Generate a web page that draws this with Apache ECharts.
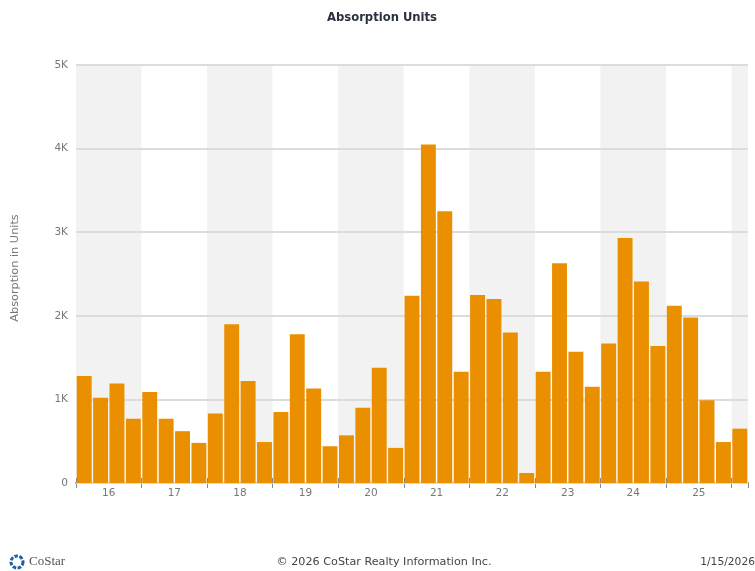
<!DOCTYPE html>
<html>
<head>
<meta charset="utf-8">
<style>html,body{margin:0;padding:0;background:#fff}#chart{width:755px;height:571px}</style>
<script src="https://cdn.jsdelivr.net/npm/echarts@6/dist/echarts.min.js"></script>
</head>
<body>
<div id="chart"></div>
<script>
// Quarterly absorption, one entry per quarter from 2016 Q1 to 2026 Q1
const quarters = [
  '16Q1','16Q2','16Q3','16Q4','17Q1','17Q2','17Q3','17Q4','18Q1','18Q2','18Q3','18Q4',
  '19Q1','19Q2','19Q3','19Q4','20Q1','20Q2','20Q3','20Q4','21Q1','21Q2','21Q3','21Q4',
  '22Q1','22Q2','22Q3','22Q4','23Q1','23Q2','23Q3','23Q4','24Q1','24Q2','24Q3','24Q4',
  '25Q1','25Q2','25Q3','25Q4','26Q1'
];
const absorption = [
  1280,1020,1190,770, 1090,770,620,480, 830,1900,1220,490,
  850,1780,1130,440, 570,900,1380,420, 2240,4050,3250,1330,
  2250,2200,1800,120, 1330,2630,1570,1150, 1670,2930,2410,1640,
  2120,1980,990,490, 650
];
const yearLabels = ['16','17','18','19','20','21','22','23','24','25'];
const yearCentres = [2,6,10,14,18,22,26,30,34,38];
const yearEdges = [0,4,8,12,16,20,24,28,32,36,40];

const GREY = '#777';
const FONT = '"DejaVu Sans", sans-serif';
const chart = echarts.init(document.getElementById('chart'), null, {renderer: 'canvas'});
chart.setOption({
  animation: false,
  backgroundColor: '#fff',
  textStyle: {fontFamily: FONT},
  grid: {left: 76, right: 7, top: 65, bottom: 88},
  xAxis: [
    {
      type: 'category',
      data: quarters,
      z: 0,
      axisLine: {lineStyle: {color: '#999', width: 2}},
      axisTick: {show: true, interval: 3, length: 5, lineStyle: {color: '#888', width: 1}},
      axisLabel: {show: false},
      splitLine: {show: false},
      splitArea: {show: true, interval: 3, areaStyle: {color: ['#f2f2f2', '#ffffff']}}
    },
    {
      // Year labels sit midway between the quarter boundaries
      type: 'value',
      position: 'bottom',
      min: 0,
      max: quarters.length,
      z: 3,
      axisLine: {show: false},
      axisTick: {show: true, inside: true, length: 5, customValues: yearEdges, lineStyle: {color: '#888', width: 1}},
      splitLine: {show: false},
      axisLabel: {
        show: true,
        customValues: yearCentres,
        margin: 5,
        color: GREY,
        fontSize: 10.5,
        formatter: v => yearLabels[yearCentres.indexOf(v)] || ''
      }
    }
  ],
  yAxis: {
    type: 'value',
    z: 1,
    min: 0,
    max: 5000,
    interval: 1000,
    name: 'Absorption in Units',
    nameLocation: 'middle',
    nameGap: 55,
    nameTextStyle: {color: GREY, fontSize: 11.3, padding: [0, 0, 0, 12]},
    axisLine: {show: false},
    axisTick: {show: false},
    axisLabel: {
      color: GREY,
      fontSize: 10.5,
      margin: 8,
      formatter: v => v === 0 ? '0' : (v / 1000) + 'K'
    },
    splitLine: {lineStyle: {color: '#dcdcdc', width: 2}}
  },
  series: [{
    type: 'bar',
    xAxisIndex: 0,
    z: 2,
    data: absorption,
    barCategoryGap: '9%',
    itemStyle: {color: '#EA9000'}
  }],
  graphic: [
    {type: 'text', x: 382, y: 18, style: {text: 'Absorption Units', fill: '#2a3040', align: 'center', verticalAlign: 'middle', font: 'bold 11.6px ' + FONT}},
    {type: 'text', x: 384, y: 562, style: {text: '© 2026 CoStar Realty Information Inc.', fill: '#444', align: 'center', verticalAlign: 'middle', font: '11.2px ' + FONT}},
    {type: 'text', x: 755, y: 562, style: {text: '1/15/2026', fill: '#444', align: 'right', verticalAlign: 'middle', font: '10.7px ' + FONT}},
    {type: 'circle', shape: {cx: 17, cy: 562, r: 6}, style: {fill: 'none', stroke: '#1f5fa8', lineWidth: 3, lineDash: [3.5, 1.5]}},
    {type: 'text', x: 29, y: 562, style: {text: 'CoStar', fill: '#555', verticalAlign: 'middle', font: '13px "Liberation Serif", serif'}}
  ]
});
</script>
</body>
</html>
